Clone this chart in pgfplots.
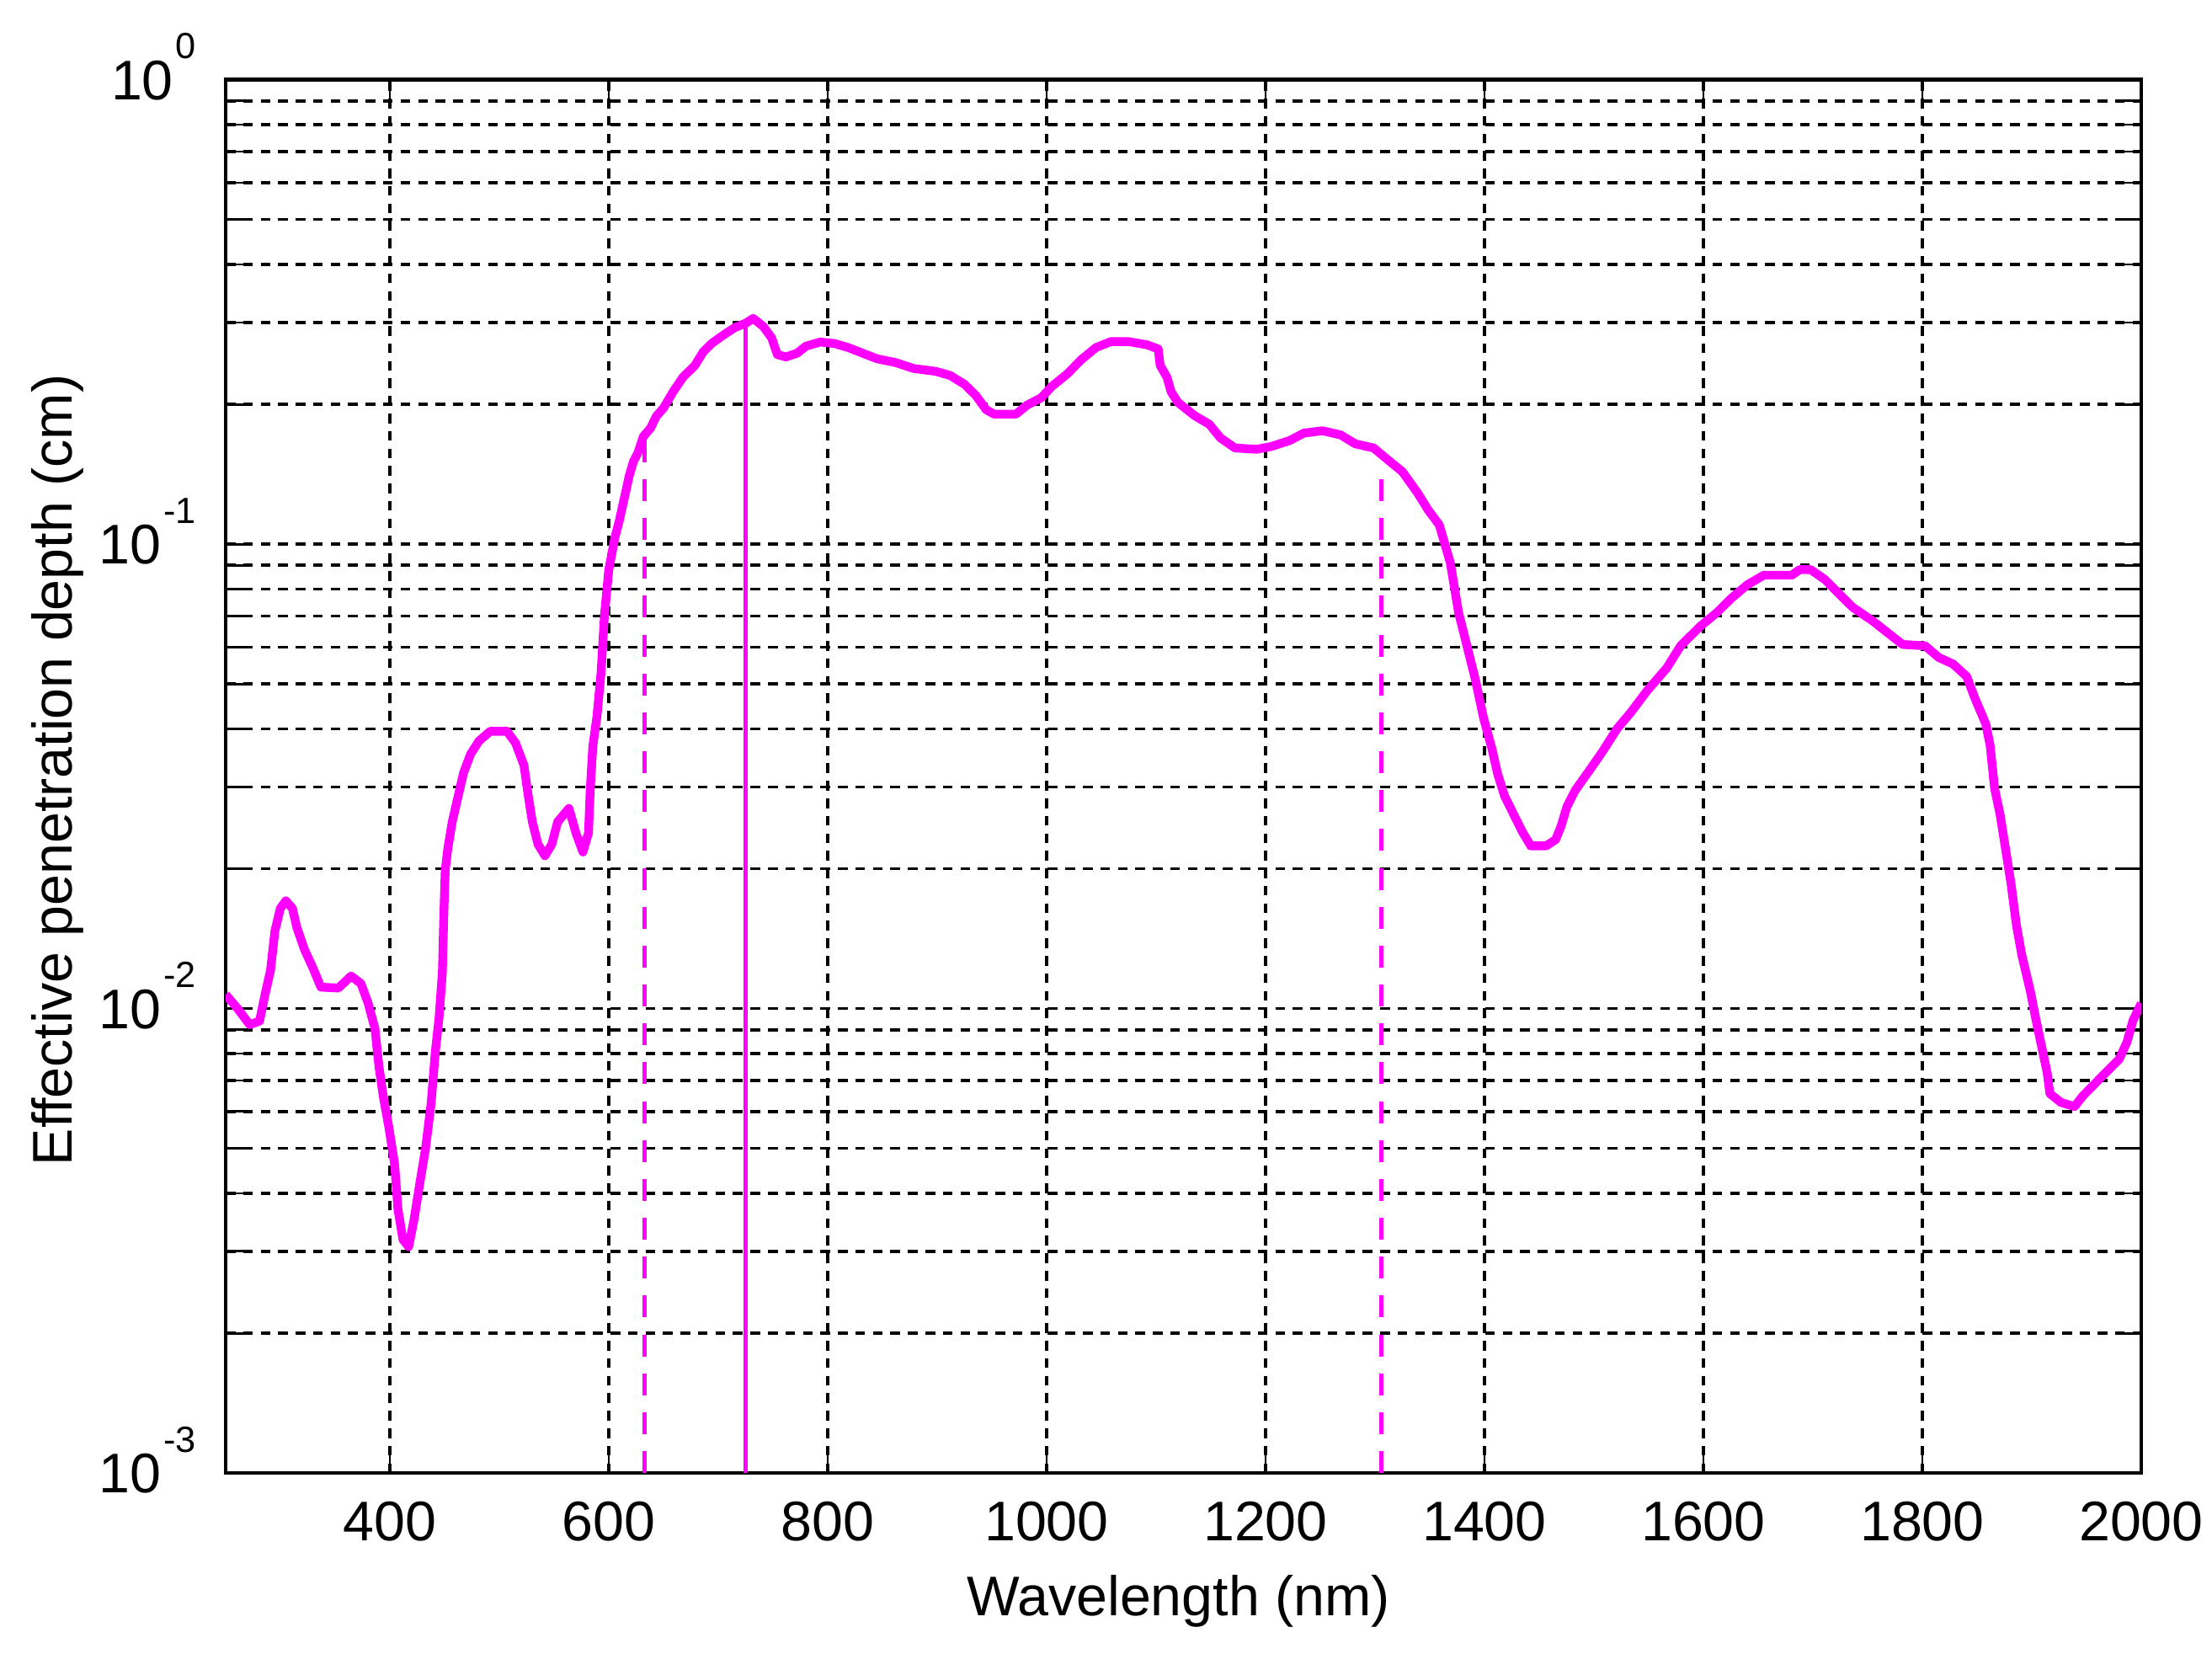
\documentclass[border=0pt]{standalone}
\usepackage{fontspec}
\setmainfont{Liberation Sans}
\usepackage{pgfplots}
\pgfplotsset{compat=1.18}
\definecolor{mag}{RGB}{255,0,255}
\newcommand{\tl}[1]{10\hspace{0.5pt}\raisebox{8.4pt}{\fontsize{7.5}{8}\selectfont #1}}
\begin{document}
\fontsize{11.5}{13.8}\selectfont
\begin{tikzpicture}
\useasboundingbox (-1.632,-1.309) rectangle (14.367,10.652);
\begin{axis}[
  scale only axis,
  width=13.855cm, height=10.076cm,
  xmin=250, xmax=2000,
  ymode=log, ymin=0.001, ymax=1,
  xtick={400,600,800,1000,1200,1400,1600,1800,2000},
  /pgf/number format/assume math mode=true,
  /pgf/number format/1000 sep={},
  ytick={0.001,0.01,0.1,1},
  yticklabels={\tl{-3},\tl{-2},\tl{-1},\tl{0}},
  minor ytick={0.002,0.003,0.004,0.005,0.006,0.007,0.008,0.009,0.02,0.03,0.04,0.05,0.06,0.07,0.08,0.09,0.2,0.3,0.4,0.5,0.6,0.7,0.8,0.9},
  xmajorgrids, ymajorgrids, yminorgrids,
  major grid style={black, line width=0.65pt, dash pattern=on 2pt off 1.6pt},
  minor grid style={black, line width=0.65pt, dash pattern=on 2pt off 1.6pt},
  tick align=inside,
  major tick length=0.14cm, minor tick length=0.14cm,
  tick style={black, line width=0.5pt},
  axis line style={black, line width=0.75pt},
  xticklabel style={anchor=base, yshift=-0.491cm},
  yticklabel style={anchor=base east, inner sep=0pt, xshift=-0.207cm, yshift=-4.1pt},
  xlabel={Wavelength (nm)},
  ylabel={Effective penetration depth (cm)},
  every axis x label/.style={at={(axis description cs:0.4974,-0.1022)}, anchor=base},
  every axis y label/.style={at={(axis description cs:-0.0803,0.5045)}, rotate=90, anchor=base},
]
\addplot[mag, line width=1.8pt, line join=round] table {
x y
250 0.01072
260.6 0.01002
272 0.00923
281 0.00940
286 0.01072
291 0.01208
295 0.01469
300 0.01644
305 0.01706
311 0.01644
315 0.01496
322 0.01340
330 0.01219
337 0.01112
353 0.01107
364.6 0.01175
373.6 0.01132
380 0.01030
386.4 0.00906
390 0.00752
394 0.00647
399 0.00557
404.4 0.00462
407.4 0.00370
412 0.00318
417.2 0.00307
422 0.00350
427.5 0.00422
432.6 0.00499
437.7 0.00624
441.6 0.00809
445 0.00957
448 0.01197
449.3 0.01585
450.6 0.01982
453 0.02213
457 0.02523
461 0.02773
467.3 0.03214
473.8 0.03532
481.4 0.03767
491.7 0.03954
507 0.03954
514.8 0.03733
522.5 0.03342
526.4 0.02877
530.2 0.02523
535.3 0.02259
541.7 0.02133
548 0.02259
553.3 0.02523
563.6 0.02698
570 0.02388
576.4 0.02173
581.5 0.02388
583 0.02931
585.4 0.03664
589.2 0.04256
593 0.05300
596 0.0700
600 0.0880
605.7 0.1035
609.6 0.1122
614.8 0.1274
618.7 0.1403
622.6 0.1507
626.5 0.1570
631.7 0.1706
638.2 0.1778
643.4 0.1884
650 0.1963
659 0.2133
668 0.2291
678.5 0.2421
686.3 0.2594
694 0.2704
704.6 0.2818
715 0.2924
725.4 0.2992
731.9 0.3062
741 0.2944
748.8 0.2780
754 0.2559
761.8 0.2529
772 0.2576
780 0.2667
793 0.2723
806 0.2704
819 0.2649
832 0.2576
845.3 0.2506
862 0.2460
878.7 0.2388
898.7 0.2355
912 0.2307
925 0.2208
935 0.2094
945 0.1945
952 0.1905
972 0.1905
982 0.1991
995 0.2065
1005 0.2188
1018.7 0.2323
1032 0.2500
1045 0.2649
1058.7 0.2729
1075 0.2729
1092 0.2685
1102 0.2630
1103.7 0.2427
1110 0.2286
1113.7 0.2128
1120 0.2018
1135 0.1892
1148.7 0.1811
1158.7 0.1694
1172 0.1611
1192 0.1600
1205 0.1622
1222 0.1671
1235 0.1734
1252 0.1754
1268.7 0.1718
1282 0.1644
1298.7 0.1611
1312 0.1517
1325 0.1432
1338.7 0.1291
1348.7 0.1183
1358.7 0.1100
1368.8 0.0912
1376.4 0.0711
1384 0.0604
1391.6 0.0512
1399.2 0.0422
1406.8 0.0363
1411.9 0.0321
1418.3 0.0287
1427 0.0261
1434.7 0.0240
1442.3 0.0224
1456.3 0.0224
1465 0.0231
1470 0.0247
1475.3 0.0272
1482.9 0.0295
1495.6 0.0325
1508 0.0358
1521 0.0400
1533.6 0.0434
1548.8 0.0484
1566.5 0.0541
1579.2 0.0604
1597 0.0665
1612 0.0711
1624.8 0.0762
1640 0.0817
1655 0.0857
1680.6 0.0857
1688 0.0881
1698 0.0881
1711 0.0839
1723.6 0.0783
1736.4 0.0731
1754.4 0.0684
1769.6 0.0641
1782 0.0608
1802.5 0.0604
1815 0.0570
1828 0.0552
1840.5 0.0519
1848 0.0466
1858 0.0410
1862 0.0368
1866 0.0298
1871 0.0262
1876 0.0221
1881 0.0186
1886 0.0151
1891 0.0130
1898.7 0.0109
1904 0.00942
1909 0.00828
1914 0.00729
1916.5 0.00656
1926.6 0.00628
1939 0.00615
1946.8 0.00649
1962 0.00706
1979.8 0.00778
1987 0.00847
1992.4 0.00942
2000 0.01026
};
\addplot[mag, line width=0.9pt, dash pattern=on 4.5pt off 3.5pt] coordinates {(633,0.001) (633,0.17)};
\addplot[mag, line width=1.0pt] coordinates {(725,0.001) (725,0.30)};
\addplot[mag, line width=0.9pt, dash pattern=on 4.5pt off 3.5pt] coordinates {(1306,0.001) (1306,0.15)};
\end{axis}
\end{tikzpicture}
\end{document}
